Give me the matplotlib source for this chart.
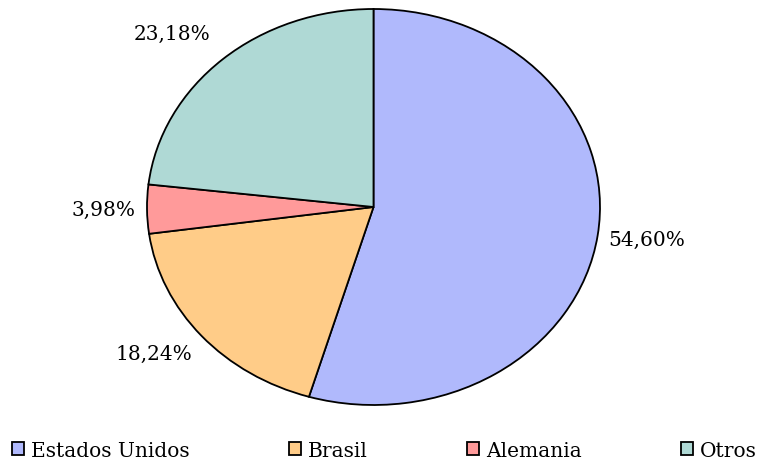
import matplotlib.pyplot as plt

paises = ['Estados Unidos', 'Brasil', 'Alemania', 'Otros']
valores = [54.60, 18.24, 3.98, 23.18]
etiquetas = ['54,60%', '18,24%', '3,98%', '23,18%']
colores = ['#B0B9FC', '#FFCC88', '#FF9A9A', '#AFD9D5']

fig = plt.figure(figsize=(7.57, 4.60), dpi=100)
# ejes elípticos (la torta está estirada en horizontal)
ax = fig.add_axes([147 / 757, 1 - 406 / 460, 453 / 757, 396 / 460])

wedges, _ = ax.pie(valores, colors=colores, startangle=90, counterclock=False,
                   wedgeprops=dict(edgecolor='black', linewidth=1.3))
ax.set_aspect('auto')
ax.set_xlim(-1, 1)
ax.set_ylim(-1, 1)

# etiquetas de porcentaje
pos = [(1.035, -0.165, 'left'), (-0.8, -0.74, 'right'),
       (-1.05, -0.01, 'right'), (-0.72, 0.875, 'right')]
for (x, y, ha), t in zip(pos, etiquetas):
    ax.text(x, y, t, ha=ha, va='center', fontsize=14.5, family='DejaVu Serif')

fig.legend(wedges, paises, loc='lower left', bbox_to_anchor=(0.016, -0.002, 0.984, 0.04),
           mode='expand', ncol=4, frameon=False, handlelength=0.6, handleheight=0.6,
           handletextpad=0.35, borderaxespad=0, borderpad=0,
           prop={'family': 'DejaVu Serif', 'size': 14.5})

fig.savefig('out.png', dpi=100)
